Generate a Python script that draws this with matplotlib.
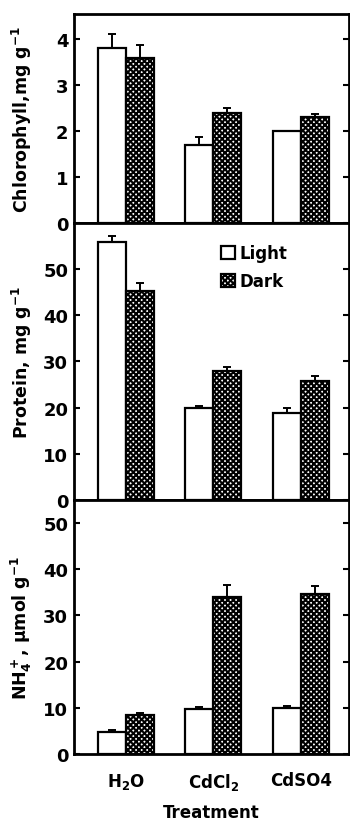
import numpy as np
import matplotlib
matplotlib.use("Agg")
import matplotlib.pyplot as plt

plt.rcParams['font.family'] = ['DejaVu Sans']
plt.rcParams['font.weight'] = 'bold'
plt.rcParams['mathtext.default'] = 'bf'
plt.rcParams['hatch.linewidth'] = 1.5

treatments = ['H$_2$O', 'CdCl$_2$', 'CdSO4']

chl_light = [3.8, 1.7, 2.0]
chl_light_err = [0.32, 0.18, 0.0]
chl_dark = [3.6, 2.4, 2.3]
chl_dark_err = [0.28, 0.1, 0.08]

prot_light = [55.8, 20.0, 18.8]
prot_light_err = [1.3, 0.4, 1.1]
prot_dark = [45.2, 27.9, 25.8]
prot_dark_err = [1.9, 1.0, 1.0]

nh4_light = [4.8, 9.8, 9.9]
nh4_light_err = [0.4, 0.4, 0.5]
nh4_dark = [8.5, 34.0, 34.6]
nh4_dark_err = [0.4, 2.7, 1.8]

panels = [
    (chl_light, chl_light_err, chl_dark, chl_dark_err,
     'Chlorophyll,mg g$^{-1}$', 4.55, [0, 1, 2, 3, 4]),
    (prot_light, prot_light_err, prot_dark, prot_dark_err,
     'Protein, mg g$^{-1}$', 60, [0, 10, 20, 30, 40, 50]),
    (nh4_light, nh4_light_err, nh4_dark, nh4_dark_err,
     'NH$_4^+$, \u00b5mol g$^{-1}$', 55, [0, 10, 20, 30, 40, 50]),
]

fig = plt.figure(figsize=(3.5, 8.28), dpi=100)
boxes = [[0.211, 0.7295, 0.786, 0.2524],
         [0.211, 0.3949, 0.786, 0.3346],
         [0.211, 0.0882, 0.786, 0.3067]]

x = np.arange(len(treatments))
w = 0.32

for i, (lt, lte, dk, dke, lab, ytop, yt) in enumerate(panels):
    ax = fig.add_axes(boxes[i])
    ax.bar(x - w / 2, lt, w, color='white', edgecolor='black', linewidth=1.6, label='Light')
    ax.bar(x + w / 2, dk, w, color='white', edgecolor='black', linewidth=1.6,
           hatch='xxxxxx', label='Dark')
    ax.errorbar(x - w / 2, lt, yerr=[np.zeros(3), lte], fmt='none', ecolor='black',
                elinewidth=1.4, capsize=3, capthick=1.4)
    ax.errorbar(x + w / 2, dk, yerr=[np.zeros(3), dke], fmt='none', ecolor='black',
                elinewidth=1.4, capsize=3, capthick=1.4)
    ax.set_xlim(-0.594, 2.55)
    ax.set_ylim(0, ytop)
    ax.set_yticks(yt)
    ax.set_ylabel(lab, fontsize=12.5, fontweight='bold')
    ax.tick_params(axis='y', direction='in', length=4, width=1.5, right=True,
                   labelsize=13, pad=4)
    for s in ax.spines.values():
        s.set_linewidth(2)
    if i < 2:
        ax.tick_params(axis='x', bottom=False, labelbottom=False)
    else:
        ax.set_xticks(x)
        ax.set_xticklabels(treatments)
        ax.tick_params(axis='x', length=0, labelsize=12, pad=12)
        ax.set_xlabel('Treatment', fontsize=12, fontweight='bold', labelpad=8)
    if i == 1:
        ax.legend(loc='upper left', bbox_to_anchor=(0.5, 0.96), frameon=False,
                  fontsize=12, handlelength=0.8, handleheight=0.8,
                  handletextpad=0.3, labelspacing=0.6, borderaxespad=0.2)
    ax.yaxis.set_label_coords(-0.145, 0.5)

fig.savefig('out.png', dpi=100)
